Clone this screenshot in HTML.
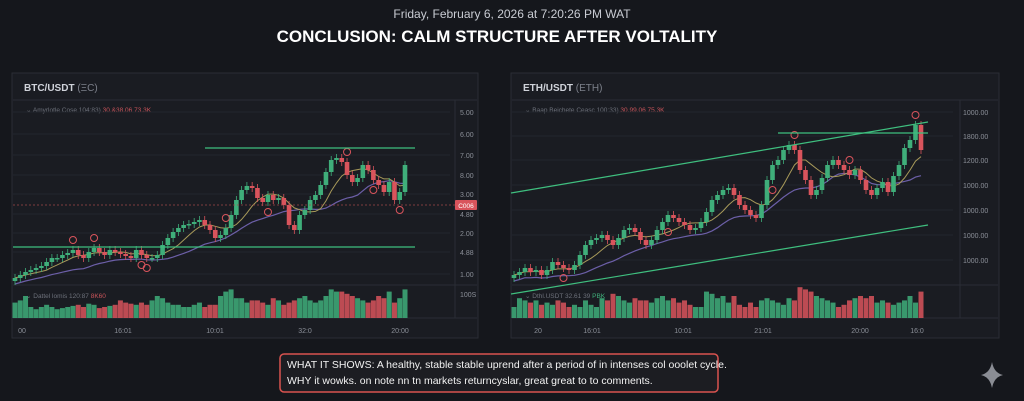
<!DOCTYPE html>
<html><head><meta charset="utf-8"><style>
html,body{margin:0;padding:0;background:#15171c;width:1024px;height:401px;overflow:hidden;font-family:"Liberation Sans",sans-serif}
svg{position:absolute;left:0;top:0}
</style></head><body>
<svg id="s" width="1024" height="401">
<rect x="0" y="0" width="1024" height="401" fill="#15171c"/>
<text x="512" y="18" text-anchor="middle" font-size="12" fill="#c9ccd3">Friday, February 6, 2026 at 7:20:26 PM WAT</text>
<text x="497" y="42" text-anchor="middle" font-size="17" font-weight="bold" fill="#ffffff">CONCLUSION: CALM STRUCTURE AFTER VOLTALITY</text>
<g>
<rect x="12" y="73" width="466" height="265" fill="#1a1c22" stroke="#2a2d35"/>
<line x1="13" y1="100" x2="477" y2="100" stroke="#2a2d35"/>
<line x1="455" y1="100" x2="455" y2="318" stroke="#2a2d35"/>
<line x1="13" y1="285" x2="477" y2="285" stroke="#2a2d35"/>
<line x1="13" y1="318" x2="477" y2="318" stroke="#2a2d35"/>
<text x="24" y="91" font-size="10" font-weight="bold" fill="#d0d3da">BTC/USDT <tspan fill="#7d818b" font-weight="normal">(ΞC)</tspan></text>
<text x="26" y="112" font-size="6.5" fill="#6d717b">⌄ Amyrlotle Cose   104:83)   <tspan fill="#c9545a">30.&amp;38.06   73.3K</tspan></text>
<text x="26" y="298" font-size="6.5" fill="#6d717b">⌄ Dattel lomis   120:87   <tspan fill="#c9545a">8K60</tspan></text>
</g>
<g>
<rect x="511" y="73" width="488" height="265" fill="#1a1c22" stroke="#2a2d35"/>
<line x1="512" y1="100" x2="998" y2="100" stroke="#2a2d35"/>
<line x1="960" y1="100" x2="960" y2="318" stroke="#2a2d35"/>
<line x1="512" y1="285" x2="998" y2="285" stroke="#2a2d35"/>
<line x1="512" y1="318" x2="998" y2="318" stroke="#2a2d35"/>
<text x="523" y="91" font-size="10" font-weight="bold" fill="#d0d3da">ETH/USDT <tspan fill="#7d818b" font-weight="normal">(ETH)</tspan></text>
<text x="525" y="112" font-size="6.5" fill="#6d717b">⌄ Baap Beichete Ceasc   100:33)   <tspan fill="#c9545a">30.99.06   75.3K</tspan></text>
<text x="525" y="298" font-size="6.5" fill="#6d717b">⌄ Dthl.USDT   32.61 39   <tspan fill="#3fae7a">PBK</tspan></text>
</g>
<g id="c1"></g><g id="c2"></g>
<rect x="280" y="354" width="438" height="38" rx="4" fill="#1c1d22" stroke="#d9534f" stroke-width="1.5"/>
<text x="287" y="368" font-size="10.5" fill="#f2f2f2">WHAT IT SHOWS: A healthy, stable stable uprend after a period of in intenses col ooolet cycle.</text>
<text x="287" y="384" font-size="10.5" fill="#f2f2f2">WHY it wowks. on note nn tn markets returncyslar, great great to to comments.</text>
<path d="M992 362 Q994 373 1003 375 Q994 377 992 388 Q990 377 981 375 Q990 373 992 362Z" fill="#8a8d94"/>
</svg>
<script>
// BTC data
const btcCloses=[22,25,28,30,32,34,38,42,42,45,47,50,45,42,48,52,48,45,50,48,46,44,42,50,45,42,42,45,55,62,68,72,75,76,78,80,75,70,62,65,72,85,100,110,114,112,102,98,105,100,102,95,75,70,85,90,100,105,115,128,140,142,138,125,118,122,135,130,120,115,108,118,100,108,135];
const btcVolumes=[14,16,20,10,8,10,12,10,8,9,10,11,12,10,13,12,9,10,11,12,16,14,13,12,14,12,16,20,18,14,12,12,10,10,12,14,10,12,12,20,24,26,18,18,14,16,16,14,12,18,16,12,14,16,18,20,16,14,16,20,26,24,24,22,20,18,16,14,16,20,18,24,14,18,26];
const btcTickLabels=["5.00","6.00","7.00","8.00","3.00","4.80","2.00","4.88","1.00","100S"];
const btcTickValues=[188,166,145,125,106,86,67,48,26];
const btcMarkers=[[11,1],[15,1],[24,-1],[25,-1],[40,1],[48,-1],[63,1],[68,-1],[73,-1]];
// ETH data
const ethCloses=[25,28,32,28,30,25,30,38,35,32,30,35,45,55,60,62,65,60,55,62,70,72,68,60,55,60,70,78,85,82,78,75,70,72,78,88,100,105,110,112,105,95,90,85,82,95,120,135,140,150,155,150,130,120,105,110,122,135,140,135,130,125,130,120,110,105,112,118,108,124,135,152,160,175,150];
const ethVolumes=[10,18,16,14,16,12,14,12,16,14,10,12,10,16,12,10,18,16,22,20,16,14,18,16,16,14,18,20,16,18,14,16,12,10,10,24,22,18,20,14,20,12,10,14,10,16,18,16,14,12,18,16,28,26,24,20,18,16,14,10,12,16,18,20,18,20,14,16,14,12,14,16,20,14,24];
const ethTickLabels=["1000.00","1800.00","1200.00","1000.00","1000.00","1000.00","1000.00"];
const ethTickValues=[188,164,140,115,90,65,40];
const ethMarkers=[[9,-1],[28,-1],[51,1],[47,-1],[61,1],[73,1]];

function vY(v){return 300-v;}
const NS="http://www.w3.org/2000/svg";
function mk(g,tag,attrs){const e=document.createElementNS(NS,tag);for(const k in attrs)e.setAttribute(k,attrs[k]);g.appendChild(e);return e;}
function ma(arr,n){return arr.map((_,i)=>{const s=arr.slice(Math.max(0,i-n+1),i+1);return s.reduce((a,b)=>a+b,0)/s.length;});}
function draw(gid,closes,vols,tv,tl,markers,x0,x1,axX,xl,xlab){
  const g=document.getElementById(gid);
  const step=(x1-x0)/(closes.length-1);
  const xS=i=>x0+i*step;
  tv.forEach((v,i)=>{
    const gl=mk(g,'line',{x1:x0-2,y1:vY(v),x2:axX-10,y2:vY(v),stroke:'#23262d'});
    
    
    const t=mk(g,'text',{x:axX,y:vY(v)+3,'font-size':7,fill:'#8b8f98'});t.textContent=tl[i];
    
    
  });
  const tv2=mk(g,'text',{x:axX,y:297,'font-size':7,fill:'#8b8f98'});tv2.textContent=tl[tl.length-1]==="100S"?"100S":"";
  
  
  const vmax=30;
  closes.forEach((c,i)=>{
    const o=i?closes[i-1]:c-3;const up=c>=o;const col=up?'#3fae7a':'#d9545c';
    const h=vols[i]/vmax*33;
    const vb=mk(g,'rect',{x:xS(i)-2.5,y:318-h,width:5,height:h,fill:col,opacity:0.85});
    
    
  });
  const ps=(a)=>a.map((v,i)=>(i?'L':'M')+xS(i).toFixed(1)+' '+vY(v).toFixed(1)).join(' ');
  const m1=mk(g,'path',{d:ps(ma(closes,14).map(v=>v-6)),stroke:'#6c5fa8',fill:'none','stroke-width':1.2});
  
  
  const m2=mk(g,'path',{d:ps(ma(closes,7)),stroke:'#a89a5a',fill:'none','stroke-width':1});
  
  
  closes.forEach((c,i)=>{
    const o=i?closes[i-1]:c-3;const up=c>=o;const col=up?'#3fae7a':'#d9545c';
    const hi=Math.max(o,c)+4,lo=Math.min(o,c)-4;
    const w=mk(g,'line',{x1:xS(i),x2:xS(i),y1:vY(hi),y2:vY(lo),stroke:col,'stroke-width':0.8});
    
    
    const b=mk(g,'rect',{x:xS(i)-2.3,y:vY(Math.max(o,c)),width:4.6,height:Math.max(1.5,Math.abs(c-o)),fill:col});
    
    
  });
  markers.forEach(([i,d])=>{
    const o=i?closes[i-1]:closes[i];const y=d>0?vY(Math.max(o,closes[i]))-10:vY(Math.min(o,closes[i]))+10;
    const ci=mk(g,'circle',{cx:xS(i),cy:y,r:3.5,fill:'none',stroke:'#d9545c','stroke-width':1});
    
    
  });
  xl.forEach((x,i)=>{const t=mk(g,'text',{x:x,y:333,'font-size':7,fill:'#8b8f98','text-anchor':'middle'});t.textContent=xlab[i];
    
    });
}
draw('c1',btcCloses,btcVolumes,btcTickValues,btcTickLabels,btcMarkers,15,405,460,[22,123,215,305,400],["00","16:01","10:01","32:0","20:00"]);
draw('c2',ethCloses,ethVolumes,ethTickValues,ethTickLabels,ethMarkers,514,921,963,[538,592,683,763,860,917],["20","16:01","10:01","21:01","20:00","16:0"]);
const g1=document.getElementById('c1'),g2=document.getElementById('c2');
let e;
e=mk(g1,'line',{x1:205,y1:148,x2:415,y2:148,stroke:'#3fbf7f','stroke-width':1.2});


e=mk(g1,'line',{x1:13,y1:247,x2:415,y2:247,stroke:'#3fbf7f','stroke-width':1.2});


e=mk(g1,'line',{x1:13,y1:205,x2:455,y2:205,stroke:'#a0454a','stroke-width':0.8,'stroke-dasharray':'2 2'});


e=mk(g1,'rect',{x:455,y:200,width:22,height:10,fill:'#d9545c',rx:1});


e=mk(g1,'text',{x:466,y:208,'font-size':6.5,fill:'#fff','text-anchor':'middle'});e.textContent='C006';


e=mk(g2,'line',{x1:511,y1:193,x2:928,y2:122,stroke:'#3fbf7f','stroke-width':1.2});


e=mk(g2,'line',{x1:511,y1:294,x2:928,y2:225,stroke:'#3fbf7f','stroke-width':1.2});


e=mk(g2,'line',{x1:778,y1:133,x2:928,y2:133,stroke:'#3fbf7f','stroke-width':1.2});


</script>
</body></html>
